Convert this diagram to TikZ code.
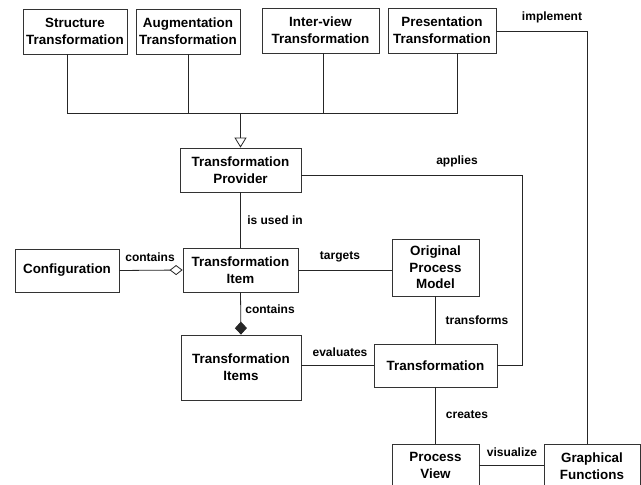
\documentclass[tikz,border=0pt]{standalone}
\usepackage{fontspec}
\setmainfont{Liberation Sans}
\usetikzlibrary{arrows.meta}
\begin{document}
\begin{tikzpicture}[x=1pt,y=-1pt,
  box/.style={draw=black!80,line width=0.8pt,rectangle,inner sep=0pt,align=center,
    font=\fontsize{13.4}{16.7}\selectfont\bfseries},
  lbl/.style={inner sep=0pt,font=\fontsize{12}{14}\selectfont\bfseries},
  conn/.style={draw=black!85,line width=0.8pt}]
\path[use as bounding box,clip] (0,0) rectangle (641,485);
\fill[white] (0,0) rectangle (641,485);
% nodes
\node[box,minimum width=104pt,minimum height=45pt] (ST) at (75,31.5) {Structure\\Transformation};
\node[box,minimum width=104pt,minimum height=45pt] (AT) at (188,31.5) {Augmentation\\Transformation};
\node[box,minimum width=117pt,minimum height=45pt] (IV) at (320.5,30.5) {Inter-view\\Transformation};
\node[box,minimum width=108pt,minimum height=45pt] (PT) at (442,30.5) {Presentation\\Transformation};
\node[box,minimum width=121pt,minimum height=44pt] (TP) at (240.5,170) {Transformation\\Provider};
\node[box,minimum width=115pt,minimum height=44pt] (TI) at (240.5,270) {Transformation\\Item};
\node[box,minimum width=104pt,minimum height=43pt] (CF) at (67,270.5) {Configuration};
\node[box,minimum width=87pt,minimum height=57pt] (OPM) at (435.5,267.5) {Original\\Process\\Model};
\node[box,minimum width=120pt,minimum height=65pt] (TIs) at (241,367.5) {Transformation\\Items};
\node[box,minimum width=123pt,minimum height=43pt] (TR) at (435.5,365.5) {Transformation};
\node[box,minimum width=87pt,minimum height=43pt] (PV) at (435.5,465.5) {Process\\View};
\node[box,minimum width=96pt,minimum height=44pt] (GF) at (592,466) {Graphical\\Functions};
% bus coordinates
\coordinate (b1) at (67,113);
\coordinate (b2) at (188,113);
\coordinate (b3) at (323,113);
\coordinate (b4) at (457,113);
\coordinate (bm) at (240.5,113);
\coordinate (ap) at (522,175);
\coordinate (im) at (587,31);
% connectors
\draw[conn] (b1 |- ST.south) -- (b1) -- (b4) -- (b4 |- PT.south);
\draw[conn] (b2 |- AT.south) -- (b2);
\draw[conn] (b3 |- IV.south) -- (b3);
\draw[conn,-{Triangle[open,length=10pt,width=12pt]}] (bm) -- (TP.north);
\draw[conn] (TP.east |- ap) -- (ap) |- (TR.east);
\draw[conn] (PT.east |- im) -- (im) -- (im |- GF.north);
\draw[conn] (TP.south) -- (TI.north);
\draw[conn,-{Diamond[open,length=13pt,width=10pt]}] (CF.east) -- (TI.west);
\draw[conn,-{Diamond[length=13pt,width=12pt]}] (TI.south) -- (TIs.north);
\draw[conn] (TI.east) -- (OPM.west |- TI.east);
\draw[conn] (OPM.south) -- (TR.north);
\draw[conn] (TIs.east |- TR.west) -- (TR.west);
\draw[conn] (TR.south) -- (PV.north);
\draw[conn] (PV.east |- 0,465) -- (GF.west |- 0,465);
% labels
\node[lbl] (l1) at (552,17) {implement};
\node[lbl] (l2) at (457,161) {applies};
\node[lbl] (l3) at (275,220) {is used in};
\node[lbl] (l4) at (150,257) {contains};
\node[lbl] (l5) at (340,257) {targets};
\node[lbl] (l6) at (270,309) {contains};
\node[lbl] (l7) at (477,320) {transforms};
\node[lbl] (l8) at (340,352) {evaluates};
\node[lbl] (l9) at (467,415) {creates};
\node[lbl] (l10) at (512,452) {visualize};
\end{tikzpicture}
\end{document}
